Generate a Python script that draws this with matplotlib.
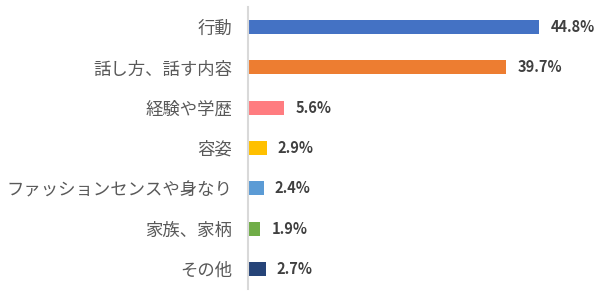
import matplotlib
matplotlib.use("Agg")
import matplotlib.pyplot as plt

plt.rcParams['font.family'] = ['Noto Sans CJK JP', 'DejaVu Sans']

categories = ["行動", "話し方、話す内容", "経験や学歴", "容姿",
              "ファッションセンスや身なり", "家族、家柄", "その他"]
values = [44.8, 39.7, 5.6, 2.9, 2.4, 1.9, 2.7]
colors = ["#4472C4", "#ED7D31", "#FF7C80", "#FFC000", "#5B9BD5", "#70AD47", "#264478"]


def main():
    fig = plt.figure(figsize=(6.0, 2.99), dpi=100)
    ax = fig.add_axes([248 / 600, 1 - 289 / 299, 342 / 600, 282 / 299])
    y = list(range(len(categories)))
    ax.barh(y, values, height=0.35, color=colors)
    ax.set_ylim(len(categories) - 0.5, -0.5)
    ax.set_xlim(0, 52.6)
    ax.set_yticks(y)
    ax.set_yticklabels(categories, fontsize=12.5, color="#595959")
    ax.tick_params(axis="y", length=0, pad=11.5)
    ax.set_xticks([])
    for s in ["top", "right", "bottom"]:
        ax.spines[s].set_visible(False)
    ax.spines["left"].set_color("#D9D9D9")
    ax.spines["left"].set_linewidth(1.5)
    for yi, v in zip(y, values):
        ax.annotate(f"{v}%", (v, yi), xytext=(8, 0), textcoords="offset points",
                    va="center", ha="left", fontsize=10.5, fontweight="bold",
                    color="#404040")
    fig.savefig("out.png", dpi=100)


if __name__ == "__main__":
    main()
